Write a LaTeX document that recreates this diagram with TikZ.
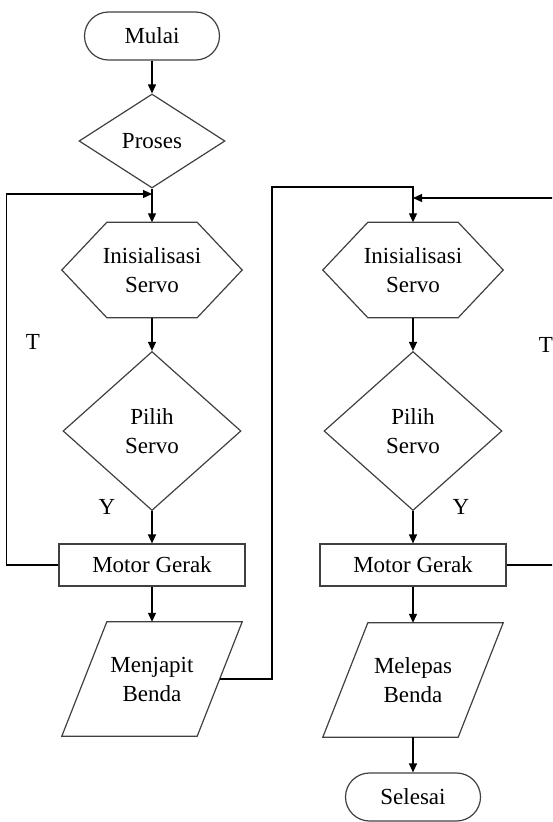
\documentclass[tikz,border=0pt]{standalone}
\usepackage{fontspec}
\setmainfont{Liberation Serif}
\usetikzlibrary{shapes.geometric,arrows.meta,calc}

\begin{document}
\begin{tikzpicture}[x=1pt, y=-1pt,
    txt/.style={font=\fontsize{23}{29}\selectfont, align=center},
    outline/.style={draw=black!75, line width=1.2},
    box/.style={txt, outline},
    term/.style={box, rounded corners=24pt, minimum width=135pt, minimum height=48pt},
    choice/.style={box, diamond, inner sep=0pt},
    plain/.style={txt, inner sep=0pt, minimum width=180pt},
    flow/.style={-{Triangle[length=9pt,width=8pt]}, line width=1.2}]
    \useasboundingbox (0, 0) rectangle (552, 822);
    \clip (0, 0) rectangle (552, 822);

    % kolom kiri
    \node[term] (mulai) at (152, 36) {Mulai};
    \node[choice, minimum width=146pt, minimum height=94pt] (proses) at (152, 141) {Proses};
    \node[plain, minimum height=95pt] (hex1) at (152, 270) {Inisialisasi\\Servo};
    \node[choice, minimum width=178pt, minimum height=159pt] (pilih1) at (152, 431) {Pilih\\Servo};
    \node[box, minimum width=186pt, minimum height=42pt] (motor1) at (152, 565) {Motor Gerak};
    \node[plain, minimum height=114pt] (jepit) at (152, 679) {Menjapit\\Benda};

    % kolom kanan
    \node[plain, minimum height=95pt] (hex2) at (413, 270) {Inisialisasi\\Servo};
    \node[choice, minimum width=178pt, minimum height=159pt] (pilih2) at (413, 431) {Pilih\\Servo};
    \node[box, minimum width=186pt, minimum height=42pt] (motor2) at (413, 565) {Motor Gerak};
    \node[plain, minimum height=114pt] (lepas) at (413, 680) {Melepas\\Benda};
    \node[term] (selesai) at (413, 797) {Selesai};

    % hexagon dan jajargenjang
    \foreach \n in {hex1, hex2}
        \draw[outline] (\n.west) -- ([xshift=45pt]\n.north west) -- ([xshift=-45pt]\n.north east)
        -- (\n.east) -- ([xshift=-45pt]\n.south east) -- ([xshift=45pt]\n.south west) -- cycle;
    \foreach \n in {jepit, lepas}
        \draw[outline] ([xshift=45pt]\n.north west) -- (\n.north east)
        -- ([xshift=-45pt]\n.south east) -- (\n.south west) -- cycle;

    % label
    \node[txt] (t1) at (33, 342) {T};
    \node[txt] (y1) at (107, 507) {Y};
    \node[txt] (t2) at (546, 345) {T};
    \node[txt] (y2) at (461, 507) {Y};

    \coordinate (masuk1) at (152, 194);
    \coordinate (masuk2) at (413, 198);

    \draw[flow] (mulai) -- (proses);
    \draw[flow] (proses) -- (hex1);
    \draw[flow] (hex1) -- (pilih1);
    \draw[flow] (pilih1) -- (motor1);
    \draw[flow] (motor1) -- (jepit);
    \draw[flow] (motor1.west) -- ++(-52, 0) |- (masuk1);
    \draw[flow] ($(jepit.north east)!.5!([xshift=-45pt]jepit.south east)$) -| (272, 187) -| (hex2.north);

    \draw[flow] (hex2) -- (pilih2);
    \draw[flow] (pilih2) -- (motor2);
    \draw[flow] (motor2) -- (lepas);
    \draw[flow] (lepas) -- (selesai);
    \draw[flow] (motor2.east) -- ++(60, 0) |- (masuk2);
\end{tikzpicture}
\end{document}
